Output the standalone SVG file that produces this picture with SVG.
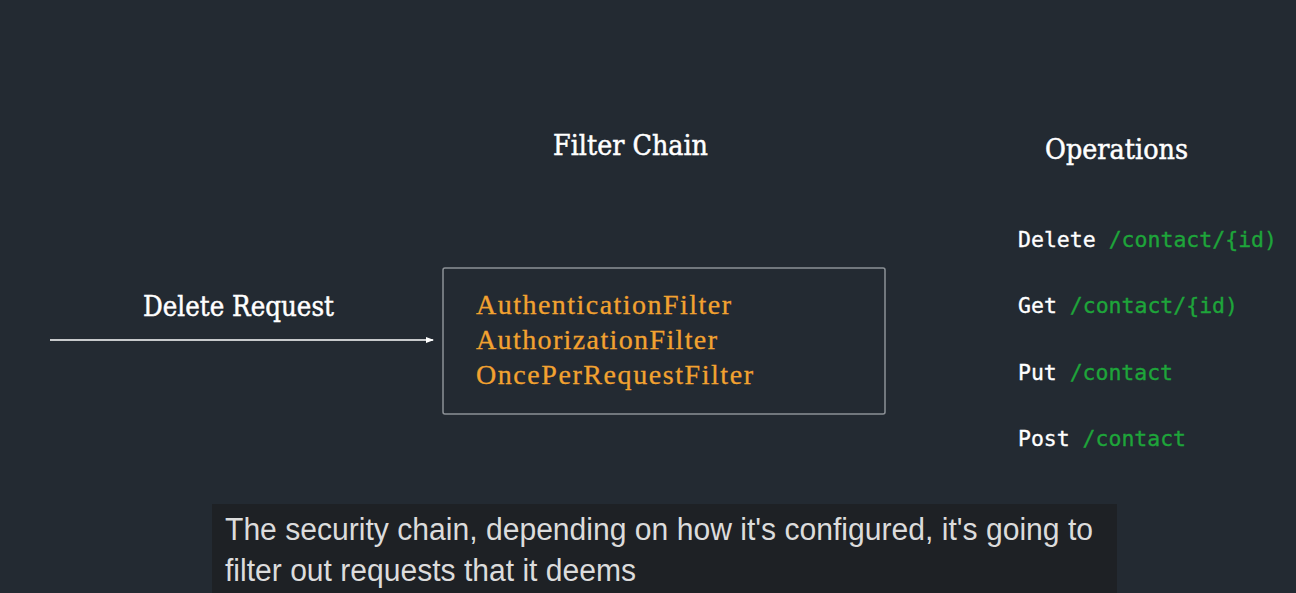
<svg xmlns="http://www.w3.org/2000/svg" width="1296" height="593" viewBox="0 0 1296 593">
<style>
.title{font-family:"DejaVu Serif","Liberation Serif",serif;fill:#ffffff;font-size:27px;stroke:#ffffff;stroke-width:0.5}
.filter{font-family:"Liberation Serif","DejaVu Serif",serif;fill:#f2a230;font-size:28px;stroke:#f2a230;stroke-width:0.3}
.op{font-family:"DejaVu Sans Mono","Liberation Mono",monospace;font-size:22px;fill:#ffffff;stroke:#ffffff;stroke-width:0.35}
.path{fill:#1ea53a;stroke:#1ea53a}
.cap{font-family:"Liberation Sans",Arial,sans-serif;fill:#dcdcdc;font-size:31px}
</style>
<defs>
<marker id="arr" markerWidth="8" markerHeight="8" refX="7" refY="4" orient="auto" markerUnits="userSpaceOnUse">
<path d="M0,1 L8,4 L0,7 Z" fill="#ffffff"/>
</marker>
</defs>
<rect width="1296" height="593" fill="#232a32"/>
<g id="filter-chain-title"><text class="title" x="553" y="155" textLength="155" lengthAdjust="spacingAndGlyphs">Filter Chain</text></g>
<g id="operations-title"><text class="title" x="1045" y="159" textLength="143" lengthAdjust="spacingAndGlyphs">Operations</text></g>
<g id="delete-request"><text class="title" x="143" y="316" textLength="191" lengthAdjust="spacingAndGlyphs">Delete Request</text></g>
<g id="filter-box">
<rect x="443" y="268" width="442" height="146" rx="2" fill="none" stroke="#8c9196" stroke-width="1.5"/>
<text class="filter" x="476" y="314" textLength="255">AuthenticationFilter</text>
<text class="filter" x="476" y="349" textLength="241">AuthorizationFilter</text>
<text class="filter" x="476" y="384" textLength="277">OncePerRequestFilter</text>
</g>
<g id="operations">
<text class="op" x="1018" y="247" textLength="259" lengthAdjust="spacingAndGlyphs">Delete <tspan class="path">/contact/{id)</tspan></text>
<text class="op" x="1018" y="313" textLength="220" lengthAdjust="spacingAndGlyphs">Get <tspan class="path">/contact/{id)</tspan></text>
<text class="op" x="1018" y="380" textLength="155" lengthAdjust="spacingAndGlyphs">Put <tspan class="path">/contact</tspan></text>
<text class="op" x="1018" y="446" textLength="168" lengthAdjust="spacingAndGlyphs">Post <tspan class="path">/contact</tspan></text>
</g>
<g id="connectors">
<line x1="50" y1="340" x2="433" y2="340" stroke="#ffffff" stroke-width="1.3" marker-end="url(#arr)"/>
</g>
<g id="caption">
<rect x="212" y="504" width="905" height="89" fill="#1e2125"/>
<text class="cap" x="225" y="540" textLength="868" lengthAdjust="spacingAndGlyphs">The security chain, depending on how it's configured, it's going to</text>
<text class="cap" x="225" y="581" textLength="411" lengthAdjust="spacingAndGlyphs">filter out requests that it deems</text>
</g>
</svg>
